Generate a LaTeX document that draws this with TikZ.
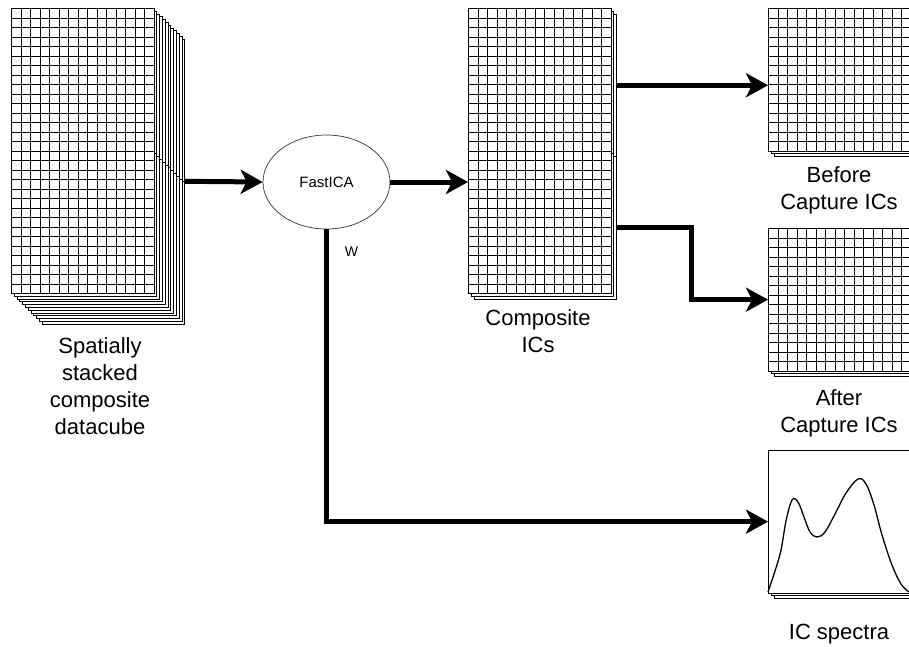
\documentclass[tikz,border=0pt]{standalone}
\usepackage{fontspec}
\setmainfont{Liberation Sans}
\usetikzlibrary{arrows.meta,positioning,shapes.geometric}

\tikzset{
  sheet/.style={draw=black,fill=white,line width=0.8pt,inner sep=0pt,
    minimum width=142.5pt,minimum height=142.5pt,anchor=north west},
  gridsheet/.style={sheet,path picture={
    \foreach \k in {1,...,14}{
      \draw[line width=0.8pt] ([xshift=\k*9.5pt]path picture bounding box.south west) -- ([xshift=\k*9.5pt]path picture bounding box.north west);
      \draw[line width=0.8pt] ([yshift=\k*9.5pt]path picture bounding box.south west) -- ([yshift=\k*9.5pt]path picture bounding box.south east);
    }}},
  flow/.style={line width=5pt,-{Stealth[length=22pt,width=24pt,inset=6pt]}},
  caption/.style={font=\fontsize{22}{27}\selectfont,align=center,inner sep=0pt,anchor=base}
}

% a pile of gridded sheets: name, x, y, number of sheets behind
\newcommand{\sheetstack}[4]{%
  \foreach \k in {#4,...,1}
    \node[sheet] (#1-\k) at (#2+\k*2.8,#3+\k*2.8) {};
  \node[gridsheet] (#1) at (#2,#3) {};
}

\begin{document}
\begin{tikzpicture}[x=1pt,y=-1pt]
\useasboundingbox (0,0) rectangle (909,646);

% datacube
\sheetstack{cubeA}{11}{8}{11}
\sheetstack{cubeB}{11}{150.5}{11}
\node[caption] (cubelab) at (100,434) {Spatially\\stacked\\composite\\datacube};

\node[ellipse,draw=black!80,line width=0.7pt,minimum width=127pt,minimum height=94pt,font=\fontsize{15}{18}\selectfont] (ica) at (326.5,182) {FastICA};

% composite ICs
\sheetstack{compA}{468}{8}{2}
\sheetstack{compB}{468}{150.5}{2}
\node[caption] (complab) at (538,352) {Composite\\ICs};

% before / after
\sheetstack{before}{768}{8}{2}
\node[caption] (beforelab) at (839,209) {Before\\Capture ICs};
\sheetstack{after}{768}{228}{2}
\node[caption] (afterlab) at (839,432) {After\\Capture ICs};

% spectra
\foreach \k in {2,1}
  \node[sheet] (spec-\k) at (768+\k*2.8,450+\k*2.8) {};
\node[sheet] (spec) at (768,450) {};
\draw[line width=1.3pt] plot[smooth,tension=0.6] coordinates {(768,592) (775,571) (781,550) (786,521) (792,500) (798,502) (804,517) (810,532) (817,537) (825,532) (835,514) (846,493) (858,479) (866,484) (874,505) (882,535) (892,565) (901,584) (909,592)};
\node[caption] (speclab) at (839,639) {IC spectra};

\draw[flow] (cubeB-11.north east) -- (ica.west);
\draw[flow] (ica.east) -- (ica.east -| compB.west);
\draw[flow] (compA-2.east) -- (compA-2.east -| before.west);
\draw[flow] (compB-2.east) -- ++(75,0) |- (after.west);
\draw[flow] (ica.south) |- (spec.west);
\node[font=\fontsize{14}{17}\selectfont] (wlab) at (351.5,252) {W};
\end{tikzpicture}
\end{document}
